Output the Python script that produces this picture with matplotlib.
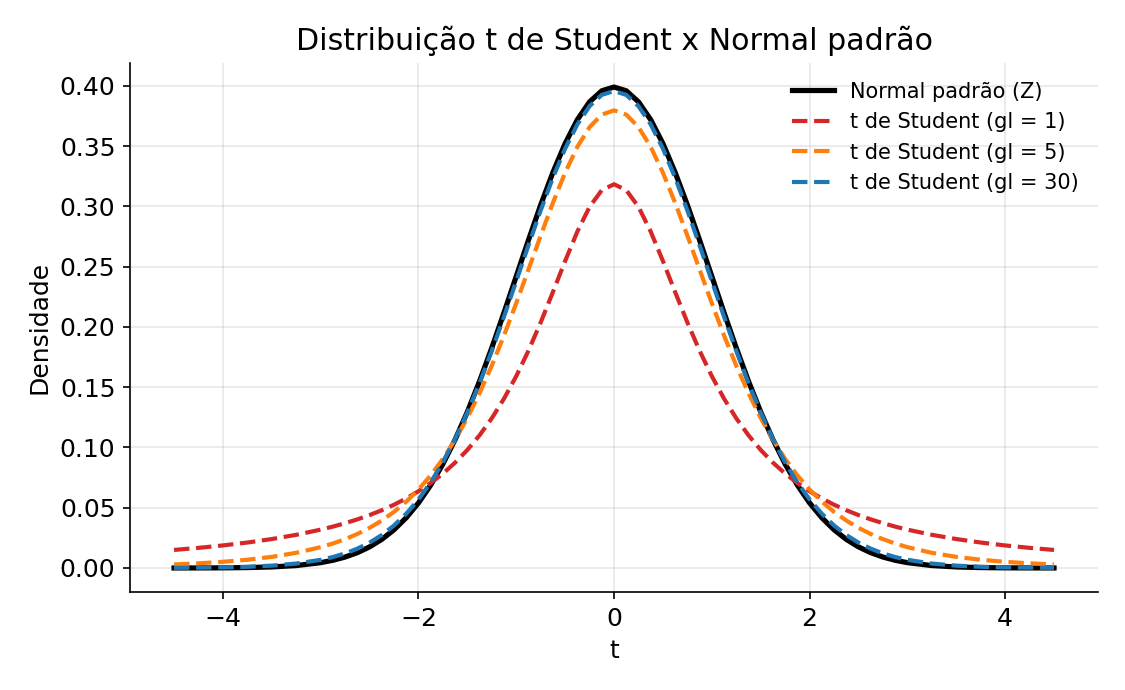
import matplotlib
matplotlib.use("Agg")
import matplotlib.pyplot as plt

# valores (metade positiva; as curvas são simétricas em t = 0)
t_half = [0.0, 0.125, 0.25, 0.375, 0.5, 0.625, 0.75, 0.875, 1.0, 1.125,
          1.25, 1.375, 1.5, 1.625, 1.75, 1.875, 2.0, 2.125, 2.25, 2.375,
          2.5, 2.625, 2.75, 2.875, 3.0, 3.25, 3.5, 3.75, 4.0, 4.25, 4.5]

normal_half = [0.39894, 0.39584, 0.38667, 0.37186, 0.35207, 0.32816, 0.30114,
               0.27205, 0.24197, 0.21187, 0.18265, 0.15501, 0.12952, 0.10654,
               0.08628, 0.06879, 0.05399, 0.04172, 0.03174, 0.02377, 0.01753,
               0.01272, 0.00909, 0.00640, 0.00443, 0.00203, 0.00087, 0.00035,
               0.00013, 0.00005, 0.00002]
gl1_half = [0.31831, 0.31341, 0.29959, 0.27907, 0.25465, 0.22890, 0.20372,
            0.18028, 0.15915, 0.14050, 0.12422, 0.11012, 0.09794, 0.08743,
            0.07835, 0.07049, 0.06366, 0.05771, 0.05251, 0.04793, 0.04390,
            0.04034, 0.03718, 0.03435, 0.03183, 0.02753, 0.02402, 0.02113,
            0.01872, 0.01670, 0.01498]
gl5_half = [0.37961, 0.37607, 0.36572, 0.34930, 0.32792, 0.30292, 0.27570,
            0.24758, 0.21968, 0.19291, 0.16789, 0.14503, 0.12452, 0.10638,
            0.09054, 0.07684, 0.06509, 0.05507, 0.04657, 0.03939, 0.03333,
            0.02823, 0.02393, 0.02033, 0.01729, 0.01259, 0.00924, 0.00685,
            0.00512, 0.00387, 0.00295]
gl30_half = [0.39563, 0.39245, 0.38307, 0.36797, 0.34788, 0.32375, 0.29665,
             0.26770, 0.23799, 0.20851, 0.18010, 0.15342, 0.12896, 0.10701,
             0.08770, 0.07101, 0.05685, 0.04502, 0.03528, 0.02739, 0.02105,
             0.01605, 0.01213, 0.00910, 0.00678, 0.00369, 0.00196, 0.00102,
             0.00052, 0.00027, 0.00013]


def mirror(half: list, neg: bool = False) -> list:
    left = [-v for v in half[:0:-1]] if neg else half[:0:-1]
    return left + half


t_vals = mirror(t_half, neg=True)
normal = mirror(normal_half)
gl1 = mirror(gl1_half)
gl5 = mirror(gl5_half)
gl30 = mirror(gl30_half)

fig, ax = plt.subplots(figsize=(7.5, 4.6), dpi=150)
fig.subplots_adjust(left=0.1156, right=0.976, top=0.9087, bottom=0.142)

ax.plot(t_vals, normal, color="black", lw=2.5, label="Normal padrão (Z)")
ax.plot(t_vals, gl1, color="#d62728", lw=2, ls="--", label="t de Student (gl = 1)")
ax.plot(t_vals, gl5, color="#ff7f0e", lw=2, ls="--", label="t de Student (gl = 5)")
ax.plot(t_vals, gl30, color="#1f77b4", lw=2, ls="--", label="t de Student (gl = 30)")

ax.set_title("Distribuição t de Student x Normal padrão", fontsize=14.4)
ax.set_xlabel("t", fontsize=12)
ax.set_ylabel("Densidade", fontsize=12)
ax.tick_params(labelsize=12)
ax.grid(True, alpha=0.3)
ax.spines["top"].set_visible(False)
ax.spines["right"].set_visible(False)
ax.legend(frameon=False, fontsize=10)

fig.savefig("out.png")
